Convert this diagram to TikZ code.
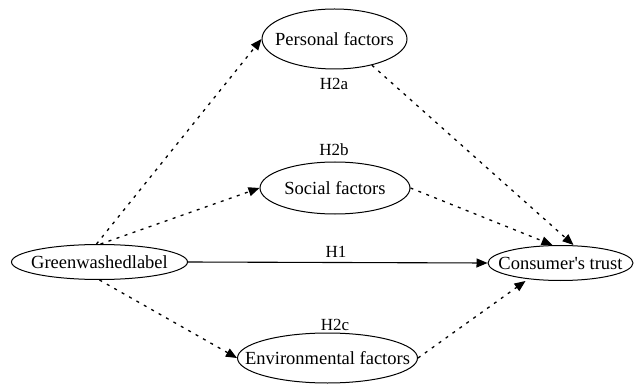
\documentclass[tikz,border=0pt]{standalone}
\usepackage{fontspec}
\setmainfont{Liberation Serif}[Ligatures=TeXOff]
\usetikzlibrary{shapes.geometric,arrows.meta,calc}
\newcommand\ovtext[1]{\makebox[0pt]{#1}}
\begin{document}
\begin{tikzpicture}[x=1pt,y=-1pt,
  oval/.style={draw,ellipse,inner sep=0pt,line width=1pt,font=\fontsize{18.5}{22}\selectfont},
  dotarrow/.style={line width=1.3pt,dash pattern=on 3pt off 5.5pt,-{Triangle[length=11pt,width=9pt]}},
  solidarrow/.style={line width=1.1pt,-{Triangle[length=11pt,width=9pt]}},
  lbl/.style={font=\fontsize{17}{20}\selectfont}]
\useasboundingbox (0,0) rectangle (634,390);
\node[oval,minimum width=176pt,minimum height=35pt] (g) at (99.5,262) {\ovtext{Greenwashedlabel}};
\node[oval,minimum width=145pt,minimum height=35pt] (c) at (560.5,263) {\ovtext{Consumer's trust}};
\node[oval,minimum width=145pt,minimum height=60pt] (p) at (334.5,39) {\ovtext{Personal factors}};
\node[oval,minimum width=150pt,minimum height=52pt] (s) at (335,188) {\ovtext{Social factors}};
\node[oval,minimum width=180pt,minimum height=50pt] (e) at (327.5,358) {\ovtext{Environmental factors}};
\node[lbl] (h2a) at (334,84) {H2a};
\node[lbl] (h2b) at (334,150) {H2b};
\node[lbl] (h1) at (336,252) {H1};
\node[lbl] (h2c) at (335,325) {H2c};
\draw[dotarrow] ($(g.north)+(-3,0)$) -- (p.west);
\draw[dotarrow] ($(g.north)+(1,0)$) -- (s.west);
\draw[solidarrow] (g.east) -- (c.west);
\draw[dotarrow] (g.south) -- (e.west);
\draw[dotarrow] (p.-35) -- ($(c.north)+(13,0)$);
\draw[dotarrow] (s.east) -- ($(c.north)+(-8,0)$);
\draw[dotarrow] (e.east) -- ($(c.south)+(-35,0)$);
\end{tikzpicture}
\end{document}
